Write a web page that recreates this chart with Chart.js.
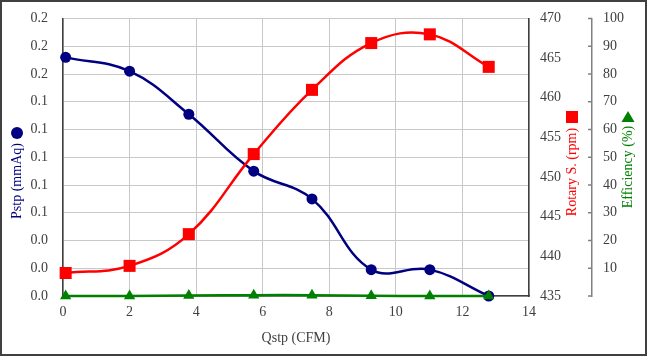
<!DOCTYPE html>
<html>
<head>
<meta charset="utf-8">
<script src="https://cdn.jsdelivr.net/npm/chart.js@4/dist/chart.umd.min.js"></script>
<style>
  html, body { margin: 0; padding: 0; background: #ffffff; }
  #wrap { width: 647px; height: 356px; position: relative; }
</style>
</head>
<body>
<div id="wrap"><canvas id="c" width="647" height="356"></canvas></div>
<script>
// ---- data ----
const qstp = [0.08, 2.0, 3.78, 5.73, 7.48, 9.26, 11.02, 12.79];          // CFM
const pstp = [0.172, 0.162, 0.131, 0.090, 0.070, 0.019, 0.019, 0.000];    // mmAq
const rotary = [437.9, 438.8, 442.8, 452.9, 461.0, 466.9, 468.0, 463.9];  // rpm
const efficiency = [0.0, 0.0, 0.2, 0.3, 0.3, 0.1, 0.0, 0.0];              // %

const xTitle = 'Qstp (CFM)';
const pstpTitle = 'Pstp (mmAq)';
const rotaryTitle = 'Rotary S. (rpm)';
const effTitle = 'Efficiency (%)';

const FONT = '"Liberation Serif", "Times New Roman", serif';
const TICK_COLOR = '#404040';
const NAVY = '#000080';
const RED = '#ff0000';
const GREEN = '#008000';

const pts = (ys) => qstp.map((x, i) => ({ x: x, y: ys[i] }));

const decorPlugin = {
  id: 'decor',
  afterDraw(chart) {
    const ctx = chart.ctx;
    ctx.save();
    // efficiency axis tick marks (pointing inward, to the left)
    const se = chart.scales.yEff;
    ctx.strokeStyle = '#808080';
    ctx.lineWidth = 1.5;
    se.ticks.forEach(t => {
      const y = se.getPixelForValue(t.value);
      ctx.beginPath();
      ctx.moveTo(se.left - 4, y);
      ctx.lineTo(se.left, y);
      ctx.stroke();
    });

    ctx.font = '14px ' + FONT;
    ctx.textAlign = 'center';
    ctx.textBaseline = 'middle';

    // x title
    ctx.fillStyle = '#404040';
    ctx.fillText(xTitle, (chart.chartArea.left + chart.chartArea.right) / 2, 338);

    // rotated titles with marker above
    function vTitle(text, x, yCenter, color) {
      ctx.save();
      ctx.translate(x, yCenter);
      ctx.rotate(-Math.PI / 2);
      ctx.fillStyle = color;
      ctx.fillText(text, 0, 0);
      ctx.restore();
    }
    vTitle(pstpTitle, 17, 181, NAVY);
    vTitle(rotaryTitle, 572, 172, RED);
    vTitle(effTitle, 628, 167, GREEN);

    // markers
    ctx.fillStyle = NAVY;
    ctx.beginPath();
    ctx.arc(17, 133, 6, 0, Math.PI * 2);
    ctx.fill();

    ctx.fillStyle = RED;
    ctx.fillRect(566, 111, 12, 12);

    ctx.fillStyle = GREEN;
    ctx.beginPath();
    ctx.moveTo(628, 111);
    ctx.lineTo(634.5, 122);
    ctx.lineTo(621.5, 122);
    ctx.closePath();
    ctx.fill();

    // outer frame
    ctx.strokeStyle = '#404040';
    ctx.lineWidth = 2;
    ctx.strokeRect(1, 1, 645, 354);
    ctx.restore();
  }
};

new Chart(document.getElementById('c'), {
  type: 'line',
  data: {
    datasets: [
      {
        label: 'Efficiency',
        data: pts(efficiency),
        yAxisID: 'yEff',
        borderColor: GREEN,
        backgroundColor: GREEN,
        borderWidth: 2.5,
        pointStyle: 'triangle',
        pointRadius: 6.5,
        pointBorderWidth: 0,
        tension: 0.4,
        clip: false,
        order: 0
      },
      {
        label: 'Rotary S.',
        data: pts(rotary),
        yAxisID: 'yRot',
        borderColor: RED,
        backgroundColor: RED,
        borderWidth: 2.5,
        pointStyle: 'rect',
        pointRadius: 8.5,
        pointBorderWidth: 0,
        tension: 0.4,
        clip: false,
        order: 1
      },
      {
        label: 'Pstp',
        data: pts(pstp),
        yAxisID: 'y',
        borderColor: NAVY,
        backgroundColor: NAVY,
        borderWidth: 2.5,
        pointStyle: 'circle',
        pointRadius: 5.5,
        pointBorderWidth: 0,
        tension: 0.4,
        clip: false,
        order: 2
      }
    ]
  },
  options: {
    responsive: false,
    animation: false,
    devicePixelRatio: 1,
    layout: { padding: { top: 18.5, right: 0, bottom: 0, left: 0 } },
    plugins: { legend: { display: false }, tooltip: { enabled: false } },
    scales: {
      x: {
        type: 'linear',
        position: 'bottom',
        min: 0, max: 14,
        ticks: { stepSize: 2, padding: 0, color: TICK_COLOR, font: { family: FONT, size: 14 } },
        grid: { color: '#c8c8c8', lineWidth: 1, drawTicks: true, tickLength: 8, tickColor: 'rgba(0,0,0,0)' },
        border: { color: '#404040', width: 1.5 },
        afterFit(s) { s.height = 60; }
      },
      y: {
        type: 'linear',
        position: 'left',
        min: 0, max: 0.2,
        ticks: {
          stepSize: 0.02, padding: 0, color: TICK_COLOR, font: { family: FONT, size: 14 },
          callback: (v) => Number(v).toFixed(1)
        },
        grid: { color: '#c8c8c8', lineWidth: 1, drawTicks: true, tickLength: 15, tickColor: 'rgba(0,0,0,0)' },
        border: { color: '#404040', width: 1.5 },
        afterFit(s) { s.width = 63; }
      },
      yRot: {
        type: 'linear',
        position: 'right',
        weight: 0,
        min: 435, max: 470,
        ticks: { stepSize: 5, padding: 0, color: TICK_COLOR, font: { family: FONT, size: 14 } },
        grid: { drawOnChartArea: false, drawTicks: true, tickLength: 11, tickColor: 'rgba(0,0,0,0)' },
        border: { color: '#404040', width: 1.5 },
        afterFit(s) { s.width = 63; }
      },
      yEff: {
        type: 'linear',
        position: 'right',
        weight: 1,
        min: 0, max: 100,
        ticks: {
          stepSize: 10, padding: 0, color: TICK_COLOR, font: { family: FONT, size: 14 },
          callback: (v) => (v === 0 ? '' : String(v))
        },
        grid: { drawOnChartArea: false, drawTicks: true, tickLength: 11, tickColor: 'rgba(0,0,0,0)' },
        border: { color: '#808080', width: 1.5 },
        afterFit(s) { s.width = 55; }
      }
    }
  },
  plugins: [decorPlugin]
});
</script>
</body>
</html>
